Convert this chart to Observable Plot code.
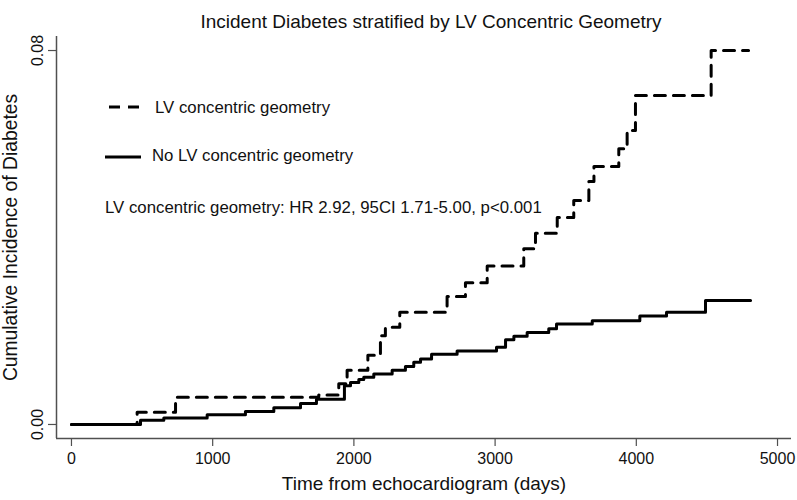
<!DOCTYPE html>
<html>
<head>
<meta charset="utf-8">
<script src="https://cdn.jsdelivr.net/npm/d3@7"></script>
<script src="https://cdn.jsdelivr.net/npm/@observablehq/plot@0.6"></script>
<style>
  html, body { margin: 0; padding: 0; background: #fff; }
  #chart svg { display: block; }
</style>
</head>
<body>
<div id="chart"></div>
<script>
// ---- Data ----
const titleText = "Incident Diabetes stratified by LV Concentric Geometry";
const xLabel = "Time from echocardiogram (days)";
const yLabel = "Cumulative Incidence of Diabetes";
const seriesNames = ["LV concentric geometry", "No LV concentric geometry"];
const statText = "LV concentric geometry: HR 2.92, 95CI 1.71-5.00, p<0.001";

const xTicks = [0, 1000, 2000, 3000, 4000, 5000];
const yTicks = [0, 0.08];
const yTickLabels = ["0.00", "0.08"];
const xDomain = [-106, 5099];
const yDomain = [-0.003, 0.083];

// LV concentric geometry (dashed)
const concDays = [0, 465, 737, 1751, 1893, 1952, 2099, 2188, 2223, 2325, 2660, 2790, 2944, 3203, 3286, 3440, 3557, 3664, 3700, 3876, 3935, 3994, 4530, 4795];
const concInc  = [0, 0.0026, 0.0058, 0.0063, 0.0087, 0.0116, 0.0148, 0.0190, 0.0208, 0.0240, 0.0274, 0.0303, 0.0339, 0.0376, 0.0409, 0.0443, 0.0479, 0.0520, 0.0552, 0.0590, 0.0629, 0.0704, 0.0800, 0.0800];

// No LV concentric geometry (solid)
const noDays = [0, 489, 654, 961, 1232, 1433, 1622, 1735, 1933, 1976, 2035, 2070, 2141, 2271, 2365, 2424, 2472, 2550, 2731, 3010, 3074, 3133, 3227, 3380, 3435, 3688, 4025, 4214, 4490, 4809];
const noInc  = [0, 0.0009, 0.0014, 0.0021, 0.0028, 0.0036, 0.0045, 0.0054, 0.0083, 0.0090, 0.0096, 0.0101, 0.0108, 0.0116, 0.0124, 0.0133, 0.0140, 0.0150, 0.0157, 0.0165, 0.0181, 0.0189, 0.0197, 0.0205, 0.0215, 0.0222, 0.0232, 0.0240, 0.0265, 0.0265];

// ---- Build tables ----
const concData = concDays.map((d, i) => ({day: d, inc: concInc[i]}));
const noData = noDays.map((d, i) => ({day: d, inc: noInc[i]}));

const font = "'Liberation Sans', Arial, Helvetica, sans-serif";
const axisColor = "#505050";
const dash = "11,8";

const chart = Plot.plot({
  width: 797,
  height: 500,
  marginLeft: 56,
  marginRight: 6,
  marginTop: 36,
  marginBottom: 62,
  style: {fontFamily: font, background: "#fff", color: "#111"},
  x: {domain: xDomain},
  y: {domain: yDomain},
  marks: [
    // axis lines at the domain edges
    Plot.ruleX([xDomain[0]], {stroke: axisColor, strokeWidth: 1.5}),
    Plot.ruleY([yDomain[0]], {stroke: axisColor, strokeWidth: 1.5}),
    Plot.axisX(xTicks, {tickSize: 8, tickPadding: 6, fontSize: 16, label: null, tickFormat: d => String(d), stroke: axisColor, strokeWidth: 1.2, fill: "#111"}),
    Plot.axisY(yTicks, {tickSize: 8, tickFormat: () => "", label: null, stroke: axisColor, strokeWidth: 1.2}),
    Plot.text(yTicks, {y: d => d, text: (d, i) => yTickLabels[i], frameAnchor: "left", textAnchor: "middle", rotate: -90, dx: -19, fontSize: 16, fill: "#111"}),
    // curves
    Plot.line(noData, {x: "day", y: "inc", curve: "step-after", stroke: "#000", strokeWidth: 3}),
    Plot.line(concData, {x: "day", y: "inc", curve: "step-after", stroke: "#000", strokeWidth: 3, strokeDasharray: dash}),
    // titles
    Plot.text([titleText], {frameAnchor: "top", dy: -22, dx: 7, fontSize: 19, fill: "#111"}),
    Plot.text([xLabel], {frameAnchor: "bottom", dy: 51, fontSize: 19, fill: "#111"}),
    Plot.text([yLabel], {frameAnchor: "left", textAnchor: "middle", rotate: -90, dx: -46, fontSize: 19.3, fill: "#111"})
  ]
});

document.getElementById("chart").appendChild(chart);

// ---- Legend / annotation inside the plot region ----
const svg = d3.select(chart);
const g = svg.append("g")
  .attr("font-family", font).attr("font-size", 16.8).attr("fill", "#111")
  .attr("text-anchor", "start");
g.append("line").attr("x1", 109).attr("x2", 141).attr("y1", 107).attr("y2", 107)
  .attr("stroke", "#000").attr("stroke-width", 3).attr("stroke-dasharray", dash);
g.append("text").attr("x", 155).attr("y", 107).attr("dy", "0.35em").text(seriesNames[0]);
g.append("line").attr("x1", 105).attr("x2", 141).attr("y1", 157).attr("y2", 157)
  .attr("stroke", "#000").attr("stroke-width", 3);
g.append("text").attr("x", 152).attr("y", 155).attr("dy", "0.35em").text(seriesNames[1]);
g.append("text").attr("x", 105).attr("y", 207).attr("dy", "0.35em").text(statText);
</script>
</body>
</html>
